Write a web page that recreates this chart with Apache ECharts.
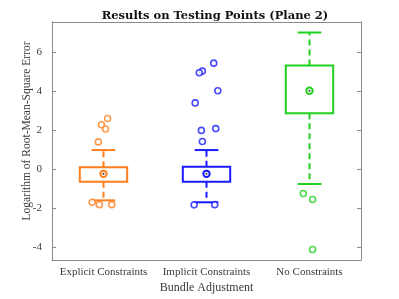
<!DOCTYPE html>
<html><head><meta charset="utf-8">
<script src="https://cdn.jsdelivr.net/npm/echarts@6/dist/echarts.min.js"></script>
<style>html,body{margin:0;padding:0;background:#fff}#c{width:399px;height:299px}</style>
</head><body><div id="c"></div>
<script>
const categories = ['Explicit Constraints', 'Implicit Constraints', 'No Constraints'];
const colors = ['#ff7f1e', '#1a1aff', '#1fd01f'];
// per group: [lowerWhisker, q1, median, q3, upperWhisker]
const boxStats = [
  [-1.60, -0.64, -0.24, 0.10, 0.98],
  [-1.70, -0.64, -0.24, 0.12, 0.98],
  [-0.76, 2.87, 4.02, 5.32, 7.01]
];
// outliers as [x position (jittered), value]
const outliersExplicit = [[1.04, 2.60], [0.98, 2.28], [1.02, 2.06], [0.95, 1.40], [0.89, -1.70], [0.96, -1.82], [1.08, -1.82]];
const outliersImplicit = [[2.07, 5.44], [1.96, 5.03], [1.93, 4.95], [2.11, 4.02], [1.89, 3.40], [1.95, 1.99], [2.09, 2.08], [1.96, 1.42], [1.88, -1.83], [2.08, -1.82]];
const outliersNone = [[2.94, -1.25], [3.03, -1.56], [3.03, -4.12]];
const yTicks = [-4, -2, 0, 2, 4, 6];
const yMin = -4.66, yMax = 7.55;

const chart = echarts.init(document.getElementById('c'), null, {renderer: 'canvas'});
const serif = 'Liberation Serif';
const axisGray = '#8a8a8a';

const boxData = boxStats.map((s, i) => [i + 1].concat(s));
const allOut = [outliersExplicit, outliersImplicit, outliersNone];

function renderBox(params, api) {
  const x = api.value(0);
  const lo = api.value(1), q1 = api.value(2), med = api.value(3), q3 = api.value(4), hi = api.value(5);
  const col = colors[params.dataIndex];
  const halfW = api.size([0.46, 0])[0] / 2;
  const capW = api.size([0.23, 0])[0] / 2;
  const pLo = api.coord([x, lo]), pQ1 = api.coord([x, q1]), pMed = api.coord([x, med]), pQ3 = api.coord([x, q3]), pHi = api.coord([x, hi]);
  const cx = pMed[0];
  const solid = {stroke: col, lineWidth: 2, fill: null};
  const dashed = {stroke: col, lineWidth: 2, lineDash: [6, 4], fill: null};
  return {
    type: 'group',
    children: [
      {type: 'line', shape: {x1: cx, y1: pQ3[1], x2: cx, y2: pHi[1]}, style: dashed},
      {type: 'line', shape: {x1: cx, y1: pQ1[1], x2: cx, y2: pLo[1]}, style: dashed},
      {type: 'line', shape: {x1: cx - capW, y1: pHi[1], x2: cx + capW, y2: pHi[1]}, style: solid},
      {type: 'line', shape: {x1: cx - capW, y1: pLo[1], x2: cx + capW, y2: pLo[1]}, style: solid},
      {type: 'rect', shape: {x: cx - halfW, y: pQ3[1], width: 2 * halfW, height: pQ1[1] - pQ3[1]}, style: {stroke: col, lineWidth: 2, fill: '#fff'}},
      {type: 'circle', shape: {cx: cx, cy: pMed[1], r: 3.2}, style: {stroke: col, lineWidth: 2, fill: '#fff'}},
      {type: 'circle', shape: {cx: cx, cy: pMed[1], r: 1}, style: {fill: '#333'}}
    ]
  };
}

const series = [{
  type: 'custom', xAxisIndex: 1, yAxisIndex: 0,
  renderItem: renderBox, data: boxData, silent: true, animation: false
}];
allOut.forEach((pts, i) => {
  series.push({
    type: 'scatter', xAxisIndex: 1, yAxisIndex: 0, data: pts,
    symbol: 'circle', symbolSize: 6,
    itemStyle: {color: '#fff', borderColor: colors[i], borderWidth: 1.6},
    silent: true, animation: false
  });
});

const labelStyle = {fontFamily: serif, fontSize: 11, color: '#3a3a3a'};
chart.setOption({
  animation: false,
  title: {
    text: 'Results on Testing Points (Plane 2)', left: 210, top: 5, textAlign: 'center',
    textStyle: {fontFamily: 'DejaVu Serif', fontWeight: 'bold', fontSize: 11.5, color: '#111'}
  },
  grid: {left: 52, right: 38, top: 22, bottom: 36, containLabel: false},
  xAxis: [
    {type: 'category', data: categories, position: 'bottom', boundaryGap: true,
     axisLine: {onZero: false, lineStyle: {color: axisGray, width: 1}},
     axisTick: {inside: true, alignWithLabel: true, length: 4, lineStyle: {color: axisGray}},
     axisLabel: Object.assign({margin: 7, interval: 0, hideOverlap: false}, labelStyle),
     splitLine: {show: false},
     name: 'Bundle Adjustment', nameLocation: 'middle', nameGap: 22, nameMoveOverlap: false,
     nameTextStyle: {fontFamily: serif, fontSize: 12, color: '#3a3a3a'}},
    {type: 'value', min: 0.5, max: 3.5, show: false, position: 'bottom', axisLine: {onZero: false}},
    {type: 'category', data: categories, position: 'top', boundaryGap: true,
     axisLine: {onZero: false, lineStyle: {color: axisGray, width: 1}},
     axisTick: {inside: true, alignWithLabel: true, length: 4, lineStyle: {color: axisGray}},
     axisLabel: {show: false}, splitLine: {show: false}}
  ],
  yAxis: [
    {type: 'value', min: yMin, max: yMax, position: 'left',
     axisLine: {show: true, onZero: false, lineStyle: {color: axisGray, width: 1}},
     axisTick: {show: true, inside: true, length: 4, customValues: yTicks, lineStyle: {color: axisGray}},
     axisLabel: Object.assign({customValues: yTicks, margin: 10}, labelStyle),
     splitLine: {show: false},
     name: 'Logarithm of Root-Mean-Square Error', nameLocation: 'middle', nameGap: 19, nameMoveOverlap: false,
     nameTextStyle: {fontFamily: serif, fontSize: 11.5, color: '#3a3a3a', padding: [0, 0, 0, 20]}},
    {type: 'value', min: yMin, max: yMax, position: 'right',
     axisLine: {show: true, onZero: false, lineStyle: {color: axisGray, width: 1}},
     axisTick: {show: true, inside: true, length: 4, customValues: yTicks, lineStyle: {color: axisGray}},
     axisLabel: {show: false}, splitLine: {show: false}}
  ],
  series: series
});
</script></body></html>
